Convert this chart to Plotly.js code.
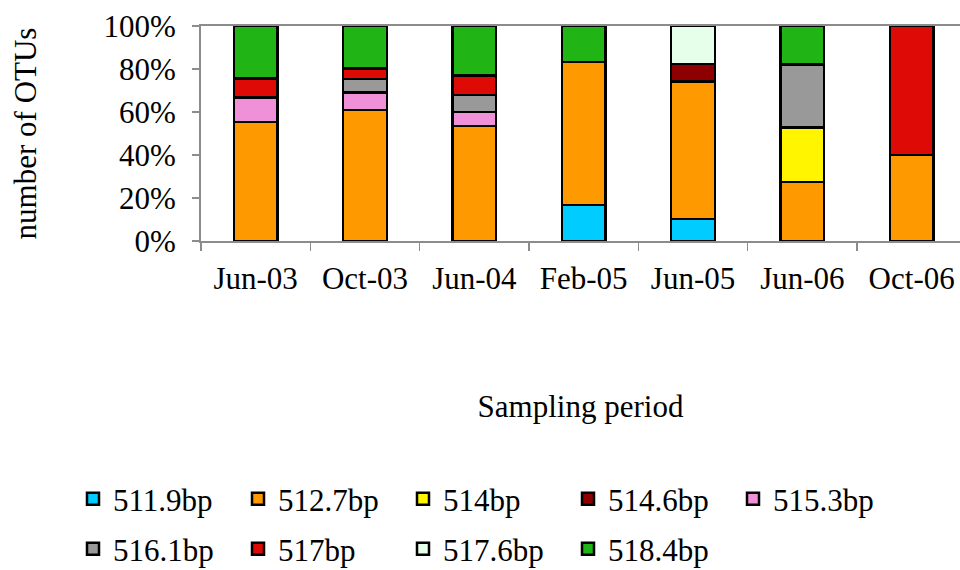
<!DOCTYPE html>
<html>
<head>
<meta charset="utf-8">
<script src="https://cdn.plot.ly/plotly-3.0.1.min.js"></script>
<style>html,body{margin:0;padding:0;background:#fff;}#chart{width:960px;height:570px;}</style>
</head>
<body>
<div id="chart"></div>
<script>
var categories = ['Jun-03','Oct-03','Jun-04','Feb-05','Jun-05','Jun-06','Oct-06'];
var seriesNames = ['511.9bp','512.7bp','514bp','514.6bp','515.3bp','516.1bp','517bp','517.6bp','518.4bp'];
var seriesColors = ['#00CCFF','#FF9900','#FFF500','#8E0000','#F090D8','#999999','#DE0A05','#E6FFEA','#20B515'];
var bp511_9 = [null, null, null, 16.7, 10.2, null, null];
var bp512_7 = [55.4, 60.9, 53.5, 66.6, 64.0, 27.4, 40.0];
var bp514   = [null, null, null, null, null, 25.5, null];
var bp514_6 = [null, null, null, null, 8.2, null, null];
var bp515_3 = [11.4, 8.2, 6.5, null, null, null, null];
var bp516_1 = [null, 6.2, 8.0, null, null, 29.2, null];
var bp517   = [8.8, 4.9, 9.0, null, null, null, 60.0];
var bp517_6 = [null, null, null, null, 17.6, null, null];
var bp518_4 = [24.4, 19.8, 23.0, 16.7, null, 17.9, null];
var seriesValues = [bp511_9, bp512_7, bp514, bp514_6, bp515_3, bp516_1, bp517, bp517_6, bp518_4];

var FONT = 'Liberation Serif, Times New Roman, serif';
var traces = seriesValues.map(function(vals, i){
  return {
    type: 'bar',
    name: seriesNames[i],
    x: categories,
    y: vals,
    width: 0.4,
    marker: {color: seriesColors[i], line: {color: '#000000', width: 2.5}},
    legend: i < 5 ? 'legend' : 'legend2',
    hoverinfo: 'skip'
  };
});

// plot area in pixels: left 201, right 960, top 26, bottom 241
function paperX(px){ return (px - 201) / 759; }
function paperY(py){ return (241 - py) / 215; }

var legendBase = {
  orientation: 'h',
  xref: 'paper', yref: 'paper',
  xanchor: 'left', yanchor: 'middle',
  entrywidth: 120, entrywidthmode: 'pixels',
  itemwidth: 30,
  font: {family: FONT, size: 31, color: '#000'},
  bgcolor: 'rgba(0,0,0,0)',
  traceorder: 'normal'
};

var layout = {
  width: 960, height: 570,
  margin: {l: 201, r: 0, t: 26, b: 329, autoexpand: false},
  paper_bgcolor: '#ffffff', plot_bgcolor: '#ffffff',
  barmode: 'stack',
  showlegend: true,
  font: {family: FONT, size: 31, color: '#000'},
  xaxis: {
    type: 'category',
    range: [-0.5, 6.442],
    showline: true, linecolor: '#8c8c8c', linewidth: 2, mirror: true,
    ticks: 'outside', ticklen: 8, tickcolor: '#8c8c8c', tickwidth: 1.5,
    tickson: 'boundaries',
    showgrid: false, zeroline: false,
    ticklabelstandoff: 9,
    tickfont: {family: FONT, size: 31, color: '#000'},
    title: {text: 'Sampling period', font: {family: FONT, size: 31, color: '#000'}, standoff: 100}
  },
  yaxis: {
    range: [0, 100],
    tickvals: [0, 20, 40, 60, 80, 100],
    ticktext: ['0%','20%','40%','60%','80%','100%'],
    showline: true, linecolor: '#8c8c8c', linewidth: 2,
    ticks: 'outside', ticklen: 7, tickcolor: '#8c8c8c', tickwidth: 1.5,
    showgrid: false, zeroline: false,
    ticklabelstandoff: 10,
    tickfont: {family: FONT, size: 31, color: '#000'},
    title: {text: 'number of OTUs', font: {family: FONT, size: 31, color: '#000'}, standoff: 58}
  },
  legend: Object.assign({}, legendBase, {x: paperX(73), y: paperY(499)}),
  legend2: Object.assign({}, legendBase, {x: paperX(73), y: paperY(549)})
};

Plotly.newPlot('chart', traces, layout, {staticPlot: true, displayModeBar: false});
</script>
</body>
</html>
